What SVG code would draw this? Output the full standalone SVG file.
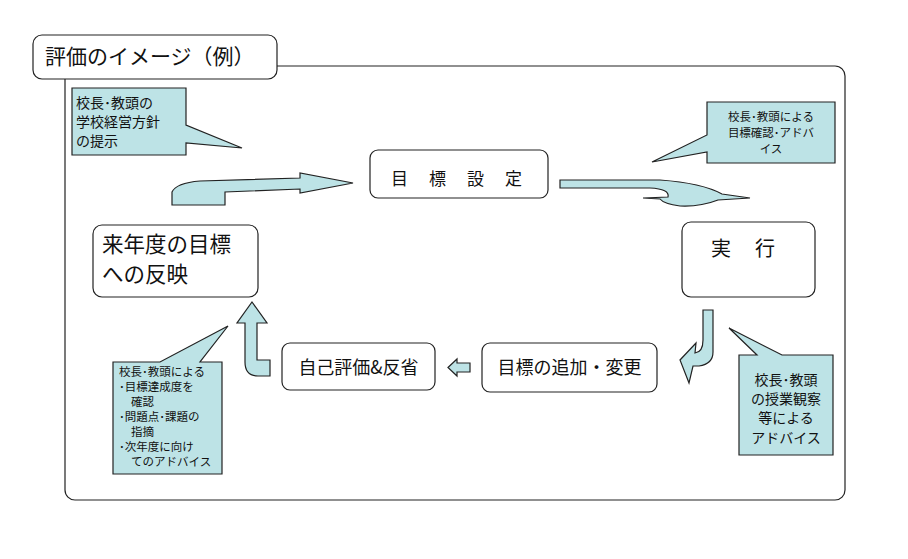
<svg xmlns="http://www.w3.org/2000/svg" width="908" height="559" viewBox="0 0 908 559">
<style>
.t{font-family:"Noto Sans CJK JP","Noto Sans CJK SC",sans-serif;fill:#111}
.box{fill:#fff;stroke:#222;stroke-width:1.2}
.call{fill:#bde3e6;stroke:#222;stroke-width:1.2}
.arr{fill:#bde3e6;stroke:#222;stroke-width:1.2;stroke-linejoin:miter}
</style>
<rect width="908" height="559" fill="#fff"/>
<g id="frame">
<rect x="65" y="66" width="780" height="434" rx="10" fill="none" stroke="#222" stroke-width="1.2"/>
</g>
<g id="title">
<rect x="33" y="35" width="244" height="44" rx="9" class="box"/>
<text x="45" y="64" class="t" font-size="21">評価のイメージ（例）</text>
</g>
<g id="callout-tl">
<path d="M72,88 H186 V125 L242,148 L186,143 V155 H72 Z" class="call"/>
<text class="t" font-size="14"><tspan x="76" y="108">校長･教頭の</tspan><tspan x="76" y="127">学校経営方針</tspan><tspan x="76" y="146">の提示</tspan></text>
</g>
<g id="callout-tr">
<path d="M707,102 H835 V163 H707 V152 L652,162 L707,135 Z" class="call"/>
<text class="t" font-size="11.5" text-anchor="middle"><tspan x="771" y="121">校長･教頭による</tspan><tspan x="771" y="137">目標確認･アドバ</tspan><tspan x="771" y="153">イス</tspan></text>
</g>
<g id="callout-bl">
<path d="M113,362 H160 L228,326 L200,362 H222 V474 H113 Z" class="call"/>
<text class="t" font-size="11.5"><tspan x="119" y="376">校長･教頭による</tspan><tspan x="119" y="391">･目標達成度を</tspan><tspan x="131" y="406">確認</tspan><tspan x="119" y="421">･問題点･課題の</tspan><tspan x="131" y="436">指摘</tspan><tspan x="119" y="451">･次年度に向け</tspan><tspan x="131" y="466">てのアドバイス</tspan></text>
</g>
<g id="callout-br">
<path d="M739,355 H757 L729,328 L782,355 H833 V455 H739 Z" class="call"/>
<text class="t" font-size="14" text-anchor="middle"><tspan x="786" y="385">校長･教頭</tspan><tspan x="786" y="404">の授業観察</tspan><tspan x="786" y="423">等による</tspan><tspan x="786" y="443">アドバイス</tspan></text>
</g>
<g id="node-goal">
<rect x="370" y="150" width="178" height="48" rx="8" class="box"/>
<text class="t" font-size="17" x="391 429 467 505" y="185">目標設定</text>
</g>
<g id="node-next">
<rect x="93" y="225" width="165" height="72" rx="9" class="box"/>
<text class="t" font-size="21.5"><tspan x="102" y="252">来年度の目標</tspan><tspan x="102" y="282">への反映</tspan></text>
</g>
<g id="node-exec">
<rect x="682" y="222" width="133" height="75" rx="9" class="box"/>
<text class="t" font-size="20" x="711 755" y="256">実行</text>
</g>
<g id="node-self">
<rect x="282" y="343" width="153" height="47" rx="8" class="box"/>
<text class="t" font-size="18" x="358.5" y="374" text-anchor="middle">自己評価&amp;反省</text>
</g>
<g id="node-add">
<rect x="482" y="343" width="175" height="49" rx="8" class="box"/>
<text class="t" font-size="18" x="569.5" y="374" text-anchor="middle">目標の追加・変更</text>
</g>
<g id="connectors">
<path class="arr" d="M172,205 V192 Q176,183 200,181 L300,178 V173 L353,183 L300,193 V189 L225,192 V205 Z"/>
<path class="arr" d="M560,180 H660 Q702,183 722,194 L750,198 L718,200 Q700,207 680,206 Q664,204 660,199 L643,198 L668,197 Q670,189 650,188 H560 Z"/>
<path class="arr" d="M703,310 H713 V352 Q713,364 699,366 L693,366 L689,383 L680,360 L696,343 L695,353 Q703,352 703,340 Z"/>
<path class="arr" d="M448,367.5 L457,359 V363 H470 V372 H457 V376 Z"/>
<path class="arr" d="M252,302 L267,323 H257 V360 H270 V376 H258 Q245,376 245,362 V323 H237 Z"/>
</g>
</svg>
